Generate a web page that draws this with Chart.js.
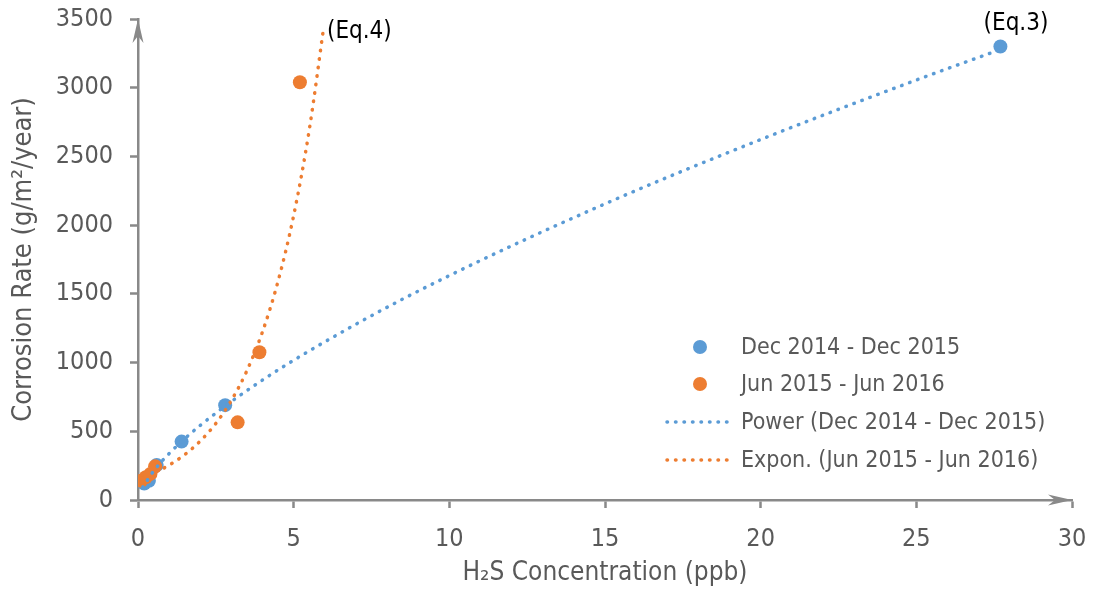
<!DOCTYPE html>
<html>
<head>
<meta charset="utf-8">
<script src="https://cdn.jsdelivr.net/npm/chart.js@4"></script>
<style>
  body { margin: 0; background: #fff; }
  canvas { display: block; }
</style>
</head>
<body>
<canvas id="corrosion" width="1094" height="589"></canvas>
<script>
// measured samples
const decX = [0.2, 0.35, 0.6, 1.4, 2.8, 27.7];
const decY = [120, 140, 255, 425, 690, 3300];
const junX = [0.1, 0.25, 0.4, 0.55, 3.2, 3.9, 5.2];
const junY = [140, 165, 190, 245, 565, 1075, 3040];

// trendlines
const powerX = [0.15, 0.5, 1, 2, 4, 7, 10, 15, 20, 25, 27.7];
const powerY = [92, 210, 338, 543, 873, 1279, 1633, 2155, 2623, 3056, 3278];
const exponX = [0.1, 0.5, 1, 1.5, 2, 2.5, 3, 3.5, 4, 4.5, 5, 5.5, 5.97];
const exponY = [158, 195, 254, 330, 429, 557, 725, 942, 1225, 1593, 2070, 2692, 3450];

const seriesNames = ['Dec 2014 - Dec 2015', 'Jun 2015 - Jun 2016',
  'Power (Dec 2014 - Dec 2015)', 'Expon. (Jun 2015 - Jun 2016)'];
const eqLabels = ['(Eq.3)', '(Eq.4)'];

const BLUE = '#5B9BD5';
const ORANGE = '#ED7D31';
const AXIS = '#898989';
const TEXT = '#595959';
const FONT = '"DejaVu Sans Condensed", "DejaVu Sans", sans-serif';

const pts = (xs, ys) => xs.map((x, i) => ({ x: x, y: ys[i] }));

// equation tags next to the trendline ends
const eqTags = {
  id: 'eqTags',
  afterDatasetsDraw(chart) {
    const { ctx, scales: { x, y } } = chart;
    ctx.save();
    ctx.font = '24px ' + FONT;
    ctx.fillStyle = '#000';
    ctx.textBaseline = 'middle';
    ctx.textAlign = 'center';
    ctx.fillText(eqLabels[0], x.getPixelForValue(28.2), y.getPixelForValue(3465));
    ctx.textAlign = 'left';
    ctx.fillText(eqLabels[1], x.getPixelForValue(6.07), y.getPixelForValue(3405));
    ctx.restore();
  }
};

// arrow heads on both axes
const axisArrows = {
  id: 'axisArrows',
  afterDraw(chart) {
    const { ctx, chartArea: a } = chart;
    const head = (tx, ty, ang) => {
      ctx.save();
      ctx.translate(tx, ty);
      ctx.rotate(ang);
      ctx.beginPath();
      ctx.moveTo(0, 0);
      ctx.lineTo(-24, -5.5);
      ctx.lineTo(-17, 0);
      ctx.lineTo(-24, 5.5);
      ctx.closePath();
      ctx.fillStyle = AXIS;
      ctx.fill();
      ctx.restore();
    };
    head(a.left, a.top, -Math.PI / 2);
    head(a.right, a.bottom, 0);
  }
};

// legend block inside the plot
const innerLegend = {
  id: 'innerLegend',
  afterDraw(chart) {
    const { ctx } = chart;
    const rows = [347, 384, 422, 460];
    const colors = [BLUE, ORANGE, BLUE, ORANGE];
    ctx.save();
    ctx.font = '23px ' + FONT;
    ctx.textBaseline = 'middle';
    ctx.textAlign = 'left';
    rows.forEach((ry, i) => {
      ctx.fillStyle = colors[i];
      ctx.strokeStyle = colors[i];
      if (i < 2) {
        ctx.beginPath();
        ctx.arc(700, ry, 7, 0, Math.PI * 2);
        ctx.fill();
      } else {
        ctx.lineWidth = 3.5;
        ctx.lineCap = 'round';
        ctx.setLineDash([0.5, 8]);
        ctx.beginPath();
        ctx.moveTo(667, ry);
        ctx.lineTo(734, ry);
        ctx.stroke();
        ctx.setLineDash([]);
      }
      ctx.fillStyle = TEXT;
      ctx.fillText(seriesNames[i], 741, ry + 1);
    });
    ctx.restore();
  }
};

const trendStyle = {
  type: 'line',
  showLine: true,
  pointRadius: 0,
  pointHoverRadius: 0,
  borderWidth: 3.5,
  borderDash: [0.5, 8],
  borderCapStyle: 'round',
  cubicInterpolationMode: 'monotone',
  fill: false
};

const tickFont = { family: FONT, size: 25 };
const titleFont = { family: FONT, size: 26 };

new Chart(document.getElementById('corrosion'), {
  type: 'scatter',
  data: {
    datasets: [
      { label: seriesNames[0], data: pts(decX, decY), backgroundColor: BLUE,
        borderColor: BLUE, pointRadius: 7, pointBorderWidth: 0, order: 3 },
      { label: seriesNames[1], data: pts(junX, junY), backgroundColor: ORANGE,
        borderColor: ORANGE, pointRadius: 7, pointBorderWidth: 0, order: 2 },
      Object.assign({ label: seriesNames[2], data: pts(powerX, powerY),
        borderColor: BLUE, order: 0 }, trendStyle),
      Object.assign({ label: seriesNames[3], data: pts(exponX, exponY),
        borderColor: ORANGE, order: 1 }, trendStyle)
    ]
  },
  options: {
    responsive: false,
    animation: false,
    devicePixelRatio: 1,
    layout: { padding: { top: 19, right: 22, left: 0, bottom: 0 } },
    plugins: { legend: { display: false }, tooltip: { enabled: false } },
    scales: {
      x: {
        type: 'linear', min: 0, max: 30,
        ticks: { stepSize: 5, color: TEXT, font: tickFont, padding: 16,
                 callback: v => String(v) },
        grid: { drawOnChartArea: false, drawTicks: true, tickLength: 8,
                tickWidth: 2.5, tickColor: AXIS },
        border: { color: AXIS, width: 2.5 },
        title: { display: true, text: 'H\u2082S Concentration (ppb)', color: TEXT,
                 font: titleFont, padding: { top: 0, bottom: 0 } },
        afterFit(scale) {
          scale.height = 89;
          scale.paddingLeft = 0;
          scale.paddingRight = 0;
        }
      },
      y: {
        type: 'linear', min: 0, max: 3500,
        ticks: { stepSize: 500, color: TEXT, font: tickFont, padding: 17,
                 callback: v => String(v) },
        grid: { drawOnChartArea: false, drawTicks: true, tickLength: 8,
                tickWidth: 2.5, tickColor: AXIS },
        border: { color: AXIS, width: 2.5 },
        title: { display: true, text: 'Corrosion Rate (g/m\u00b2/year)', color: TEXT,
                 font: { family: FONT, size: 27 }, padding: { top: 8, bottom: 0 } },
        afterFit(scale) {
          scale.width = 138;
          scale.paddingTop = 0;
          scale.paddingBottom = 0;
        }
      }
    }
  },
  plugins: [eqTags, axisArrows, innerLegend]
});
</script>
</body>
</html>
